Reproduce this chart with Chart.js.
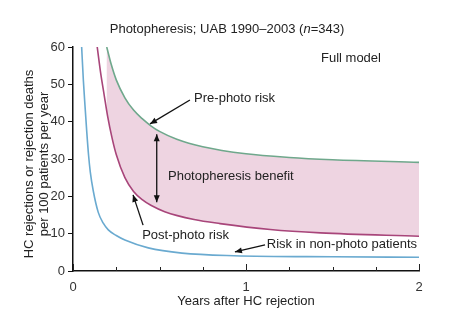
<!DOCTYPE html>
<html>
<head>
<meta charset="utf-8">
<script src="https://cdn.jsdelivr.net/npm/chart.js@4"></script>
<style>
  body { margin: 0; background: #fff; }
  #wrap { width: 457px; height: 312px; }
</style>
</head>
<body>
<div id="wrap"><canvas id="chart"></canvas></div>
<script>
// values (years, deaths per 100 patients per year)
const preX = [0.195, 0.22, 0.25, 0.30, 0.35, 0.40, 0.45, 0.50, 0.60, 0.75, 1.0, 1.25, 1.5, 2.0];
const preY = [60, 55.5, 51.2, 46.4, 43.1, 40.8, 38.9, 37.4, 35.3, 33.3, 31.4, 30.4, 29.8, 29.1];

const postX = [0.14, 0.16, 0.18, 0.20, 0.225, 0.25, 0.30, 0.35, 0.40, 0.45, 0.53, 0.70, 0.85, 1.14, 1.43, 2.0];
const postY = [60, 53, 47.2, 41.5, 35.8, 31.2, 25, 21.3, 19.1, 17.6, 15.9, 13.8, 12.7, 11.1, 10.2, 9.3];

const nonX = [0.05, 0.06, 0.069, 0.08, 0.09, 0.10, 0.117, 0.146, 0.175, 0.204, 0.25, 0.30, 0.435, 0.63, 0.93, 1.5, 2.0];
const nonY = [60, 51, 44.5, 37, 31, 26.5, 21.5, 15.7, 12.8, 11, 9.5, 8.3, 6.2, 4.8, 4.1, 3.8, 3.7];

const xTicks = [0, 1, 2];
const yTicks = [0, 10, 20, 30, 40, 50, 60];

const toPts = (xs, ys) => xs.map((x, i) => ({ x, y: ys[i] }));

const FONT = "'Liberation Sans', Arial, sans-serif";

// labels and arrows, placed in data units
const notes = [
  { text: "Pre-photo risk", x: 0.70, y: 46.1 },
  { text: "Photopheresis benefit", x: 0.549, y: 25.2 },
  { text: "Post-photo risk", x: 0.40, y: 9.6 },
  { text: "Risk in non-photo patients", x: 1.12, y: 7.2 }
];
const arrows = [
  { from: [0.676, 45.8], to: [0.445, 39.4] },
  { from: [0.405, 12.3], to: [0.347, 20.4] },
  { from: [1.11, 7.0], to: [0.936, 5.1] },
  { from: [0.484, 27], to: [0.484, 36.6], both: [0.484, 18.4] }
];

function arrowHead(ctx, x1, y1, x2, y2) {
  const a = Math.atan2(y2 - y1, x2 - x1);
  const len = 7, w = 3;
  ctx.beginPath();
  ctx.moveTo(x2, y2);
  ctx.lineTo(x2 - len * Math.cos(a) + w * Math.sin(a), y2 - len * Math.sin(a) - w * Math.cos(a));
  ctx.lineTo(x2 - len * Math.cos(a) - w * Math.sin(a), y2 - len * Math.sin(a) + w * Math.cos(a));
  ctx.closePath();
  ctx.fill();
}

const decor = {
  id: "decor",
  afterDatasetsDraw(chart) {
    const { ctx, scales: { x, y }, chartArea } = chart;
    ctx.save();
    ctx.fillStyle = "#222";
    ctx.strokeStyle = "#111";
    ctx.font = "13px " + FONT;
    ctx.textBaseline = "middle";
    ctx.textAlign = "left";
    notes.forEach(n => ctx.fillText(n.text, x.getPixelForValue(n.x), y.getPixelForValue(n.y)));

    ctx.fillStyle = "#111";
    ctx.lineWidth = 1.3;
    arrows.forEach(a => {
      const fx = x.getPixelForValue(a.from[0]), fy = y.getPixelForValue(a.from[1]);
      const tx = x.getPixelForValue(a.to[0]), ty = y.getPixelForValue(a.to[1]);
      ctx.beginPath();
      if (a.both) {
        const bx = x.getPixelForValue(a.both[0]), by = y.getPixelForValue(a.both[1]);
        ctx.moveTo(bx, by);
        ctx.lineTo(tx, ty);
        ctx.stroke();
        arrowHead(ctx, tx, by, tx, ty);
        arrowHead(ctx, bx, ty, bx, by);
      } else {
        ctx.moveTo(fx, fy);
        ctx.lineTo(tx, ty);
        ctx.stroke();
        arrowHead(ctx, fx, fy, tx, ty);
      }
    });

    // x ticks point up into the plot, minor ticks every quarter year
    ctx.strokeStyle = "#222";
    ctx.lineWidth = 1;
    for (let v = 0; v <= 2.001; v += 0.25) {
      const px = Math.round(x.getPixelForValue(v)) + 0.5;
      const major = Math.abs(v - Math.round(v)) < 1e-6;
      ctx.beginPath();
      ctx.moveTo(px, chartArea.bottom);
      ctx.lineTo(px, chartArea.bottom - (major ? 7 : 4));
      ctx.stroke();
    }
    ctx.restore();
  },
  afterDraw(chart) {
    const { ctx, chartArea } = chart;
    ctx.save();
    ctx.fillStyle = "#222";
    ctx.textBaseline = "middle";
    // title with italic n
    const parts = [
      ["Photopheresis; UAB 1990\u20132003 (", "13px " + FONT],
      ["n", "italic 13px " + FONT],
      ["=343)", "13px " + FONT]
    ];
    let total = 0;
    parts.forEach(p => { ctx.font = p[1]; total += ctx.measureText(p[0]).width; });
    let cx = 227 - total / 2;
    ctx.textAlign = "left";
    parts.forEach(p => { ctx.font = p[1]; ctx.fillText(p[0], cx, 29); cx += ctx.measureText(p[0]).width; });

    ctx.font = "13px " + FONT;
    ctx.fillText("Full model", 321, 58);

    ctx.textAlign = "center";
    ctx.fillText("Years after HC rejection", (chartArea.left + chartArea.right) / 2, 301);

    ctx.translate(0, 164);
    ctx.rotate(-Math.PI / 2);
    ctx.fillText("HC rejections or rejection deaths", 0, 29);
    ctx.fillText("per 100 patients per year", 0, 44);
    ctx.restore();
  }
};

new Chart(document.getElementById("chart"), {
  type: "line",
  data: {
    datasets: [
      {
        label: "Pre-photo risk",
        data: toPts(preX, preY),
        borderColor: "#6fa88c",
        borderWidth: 1.6,
        pointRadius: 0,
        cubicInterpolationMode: "monotone",
        fill: false
      },
      {
        label: "Post-photo risk",
        data: toPts(postX, postY),
        borderColor: "#a8457a",
        borderWidth: 1.6,
        pointRadius: 0,
        cubicInterpolationMode: "monotone",
        fill: { target: 0 },
        backgroundColor: "#eed4e1"
      },
      {
        label: "Risk in non-photo patients",
        data: toPts(nonX, nonY),
        borderColor: "#6aaad0",
        borderWidth: 1.6,
        pointRadius: 0,
        cubicInterpolationMode: "monotone",
        fill: false
      }
    ]
  },
  options: {
    responsive: true,
    maintainAspectRatio: false,
    animation: false,
    layout: { padding: { top: 47, right: 38, left: 0, bottom: 0 } },
    plugins: {
      legend: { display: false },
      tooltip: { enabled: false },
      filler: { drawTime: "beforeDatasetDraw" }
    },
    scales: {
      x: {
        type: "linear",
        min: 0,
        max: 2,
        afterBuildTicks: s => { s.ticks = xTicks.map(v => ({ value: v })); },
        ticks: { color: "#333", font: { size: 13, family: FONT }, padding: 1, maxRotation: 0 },
        grid: { display: false },
        border: { display: true, color: "#111", width: 1.5 },
        afterFit: s => { s.height = 41; }
      },
      y: {
        min: 0,
        max: 60,
        afterBuildTicks: s => { s.ticks = yTicks.map(v => ({ value: v })); },
        ticks: { color: "#333", font: { size: 13, family: FONT }, padding: 3 },
        grid: { drawOnChartArea: false, tickLength: 5, color: "#111" },
        border: { display: true, color: "#111", width: 1.5 },
        afterFit: s => { s.width = 73; }
      }
    }
  },
  plugins: [decor]
});
</script>
</body>
</html>
